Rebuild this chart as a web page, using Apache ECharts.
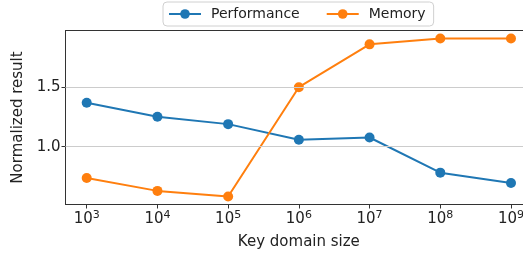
<!DOCTYPE html>
<html>
<head>
<meta charset="utf-8">
<script src="https://cdn.jsdelivr.net/npm/echarts@6/dist/echarts.min.js"></script>
<style>
  html, body { margin: 0; padding: 0; background: #fff; }
  #chart { width: 523px; height: 253px; }
</style>
</head>
<body>
<div id="chart"></div>
<script>
(function(){
	var keySizes = [1e3, 1e4, 1e5, 1e6, 1e7, 1e8, 1e9];
	var performance = [1.371, 1.253, 1.191, 1.059, 1.078, 0.781, 0.694];
	var memory = [0.736, 0.627, 0.579, 1.503, 1.865, 1.915, 1.915];
	var yTicks = [1.0, 1.5];
	var seriesNames = ['Performance', 'Memory'];

	var font = 'DejaVu Sans';
	var chart = echarts.init(document.getElementById('chart'));

	function pairs(vals) {
		return keySizes.map(function(k, i){ return [k, vals[i]]; });
	}

	var option = {
		animation: false,
		textStyle: { fontFamily: font },
		legend: {
			left: 163,
			top: 2,
			padding: [5, 8, 5, 5],
			itemGap: 26,
			itemWidth: 32,
			itemHeight: 12,
			borderColor: '#d0d0d0',
			borderWidth: 1,
			borderRadius: 4,
			textStyle: { fontSize: 14, color: '#222', fontFamily: font, padding: [0, 0, 0, 5] },
			data: seriesNames
		},
		grid: {
			left: 65.5,
			top: 30.5,
			width: 466.7,
			height: 174,
			outerBoundsMode: 'none',
			containLabel: false,
			show: true,
			borderColor: '#333',
			borderWidth: 1
		},
		xAxis: {
			type: 'log',
			logBase: 10,
			min: Math.pow(10, 2.7),
			max: Math.pow(10, 9.3),
			name: 'Key domain size',
			nameLocation: 'middle',
			nameGap: 30,
			nameTextStyle: { fontSize: 15, color: '#222', fontFamily: font },
			axisLine: { lineStyle: { color: '#333' } },
			axisTick: { customValues: keySizes, length: 4, lineStyle: { color: '#333' } },
			axisLabel: {
				customValues: keySizes,
				margin: 5,
				color: '#222',
				formatter: function(v){
					return '{b|10}{s|' + Math.round(Math.log10(v)) + '}';
				},
				rich: {
					b: { fontSize: 15, fontFamily: font, color: '#222' },
					s: { fontSize: 11, fontFamily: font, color: '#222', padding: [0, 0, 9, 0] }
				}
			},
			splitLine: { show: false }
		},
		yAxis: {
			type: 'value',
			min: 0.512,
			max: 1.982,
			name: 'Normalized result',
			nameLocation: 'middle',
			nameGap: 40,
			nameTextStyle: { fontSize: 15, color: '#222', fontFamily: font },
			axisLine: { show: true, lineStyle: { color: '#333' } },
			axisTick: { show: true, customValues: yTicks, length: 4, lineStyle: { color: '#333' } },
			axisLabel: {
				customValues: yTicks,
				margin: 5,
				fontSize: 15,
				color: '#222',
				formatter: function(v){ return v.toFixed(1); }
			},
			splitLine: { show: false }
		},
		series: [
			{
				name: seriesNames[0],
				type: 'line',
				data: pairs(performance),
				color: '#1f77b4',
				symbol: 'circle',
				symbolSize: 10,
				lineStyle: { width: 2 },
				markLine: {
					silent: true,
					symbol: 'none',
					label: { show: false },
					lineStyle: { color: '#cccccc', width: 1, type: 'solid' },
					data: yTicks.map(function(v){ return { yAxis: v }; })
				}
			},
			{
				name: seriesNames[1],
				type: 'line',
				data: pairs(memory),
				color: '#ff7f0e',
				symbol: 'circle',
				symbolSize: 10,
				lineStyle: { width: 2 }
			}
		]
	};

	chart.setOption(option);
})();
</script>
</body>
</html>
